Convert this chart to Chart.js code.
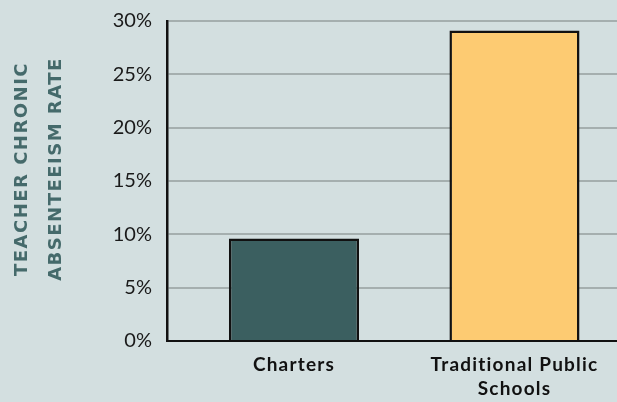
<!DOCTYPE html>
<html lang="en">
<head>
    <meta charset="UTF-8">
    <title>Teacher Chronic Absenteeism Rate</title>
    <script src="https://cdn.jsdelivr.net/npm/chart.js"></script>
    <style>
        html, body { margin: 0; padding: 0; background: #d3dfe0; overflow: hidden; }
        #wrap { width: 617px; height: 402px; }
    </style>
</head>
<body>
    <div id="wrap">
        <canvas id="chart" width="617" height="402"></canvas>
    </div>
    <script>
        // Dados
        var categories = [['Charters'], ['Traditional Public', 'Schools']];
        var absenteeism = [9.6, 29.1];
        var yTicks = [0, 5, 10, 15, 20, 25, 30];
        var barColors = ['#3b5f60', '#fdcb72'];
        var yTitle = ['TEACHER CHRONIC', 'ABSENTEEISM RATE'];

        var points = absenteeism.map(function(v, i) { return { x: i, y: v }; });

        // aplica espaçamento entre letras a um método de desenho da escala
        function spaced(scale, method, spacing, shiftY) {
            var key = '_spaced_' + method;
            if (scale[key]) return;
            var orig = scale[method];
            scale[method] = function() {
                this.ctx.save();
                this.ctx.letterSpacing = spacing;
                if (shiftY) this.ctx.translate(0, shiftY);
                orig.apply(this, arguments);
                this.ctx.restore();
            };
            scale[key] = true;
        }

        var ctx = document.getElementById('chart').getContext('2d');
        var chart = new Chart(ctx, {
            type: 'bar',
            data: {
                datasets: [{
                    data: points,
                    backgroundColor: barColors,
                    borderColor: '#111',
                    borderWidth: 2.5,
                    categoryPercentage: 1,
                    barPercentage: 0.59
                }]
            },
            options: {
                responsive: false,
                animation: false,
                layout: { padding: { top: 21, right: 0, bottom: 0, left: 0 } },
                plugins: { legend: { display: false }, tooltip: { enabled: false } },
                scales: {
                    x: {
                        type: 'linear',
                        offset: false,
                        min: -0.576,
                        max: 1.465,
                        grid: { display: false, drawTicks: false },
                        border: { color: '#111', width: 2 },
                        afterFit: function(scale) { scale.height = 61; },
                        afterUpdate: function(scale) { spaced(scale, 'drawLabels', '1.2px', 0); },
                        ticks: {
                            stepSize: 1,
                            includeBounds: false,
                            autoSkip: false,
                            maxRotation: 0,
                            padding: 12,
                            color: '#111',
                            font: { family: 'Lato', size: 19, weight: 'bold', lineHeight: 1.25 },
                            callback: function(v) {
                                return categories[v] !== undefined ? categories[v] : '';
                            }
                        }
                    },
                    y: {
                        min: 0,
                        max: 30,
                        afterFit: function(scale) {
                            scale.width = 167;
                            scale.paddingTop = 0;
                            scale.paddingBottom = 0;
                        },
                        afterBuildTicks: function(scale) {
                            scale.ticks = yTicks.map(function(v) { return { value: v }; });
                        },
                        afterUpdate: function(scale) { spaced(scale, 'drawTitle', '1.5px', -12); },
                        grid: { color: '#a5afaf', lineWidth: 2, drawTicks: false },
                        border: { color: '#111', width: 2.5 },
                        ticks: {
                            padding: 15,
                            color: '#1a1a1a',
                            font: { family: 'Lato', size: 20 },
                            callback: function(v) { return v + '%'; }
                        },
                        title: {
                            display: true,
                            text: yTitle,
                            color: '#456a6b',
                            padding: { top: 5, bottom: 0 },
                            font: { family: 'DejaVu Sans', size: 18, weight: 'bold', lineHeight: 1.9 }
                        }
                    }
                }
            }
        });
    </script>
</body>
</html>
